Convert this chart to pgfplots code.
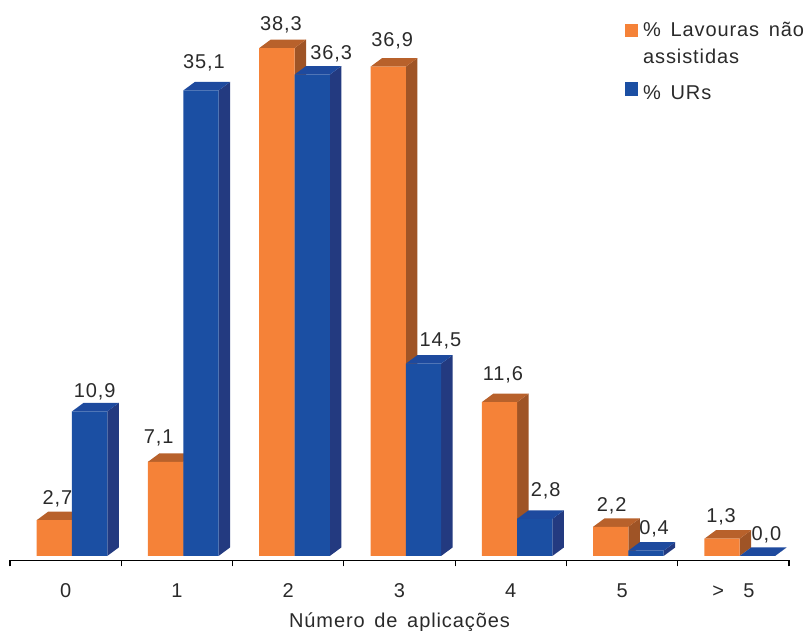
\documentclass[border=0pt]{standalone}
\usepackage{pgfplots}
\usepackage{pgfplotstable}
\usepackage{fontspec}
\setmainfont[LetterSpace=4.5,WordSpace=1.5]{Liberation Sans}
\pgfplotsset{compat=1.18}
\definecolor{orF}{HTML}{F58238}
\definecolor{orS}{HTML}{9F5426}
\definecolor{orT}{HTML}{B8612B}
\definecolor{blF}{HTML}{1B4FA3}
\definecolor{blS}{HTML}{233A80}
\definecolor{blT}{HTML}{1E4A9E}
\definecolor{txt}{HTML}{2A2A2A}
% x, value, label shift right (px), label shift above the bar front (px)
\pgfplotstableread{
x y dx dy
0 2.7 3 22
1 7.1 -7 25
2 38.3 4 24
3 36.9 4 27
4 11.6 3.5 28
5 2.2 1 22
6 1.3 -1 23
}\lavouras
\pgfplotstableread{
x y dx dy
0 10.9 5 20
1 35.1 3 28
2 36.3 19 22
3 14.5 17 24
4 2.8 11 29
5 0.4 8 23
6 0.0 9 22
}\urs
\newcommand\cuboid[4]{%
  \pgfmathsetmacro\xa{#1}%
  \pgfmathsetmacro\xb{#1+0.317}%
  \pgfmathsetmacro\xc{#1+0.317+0.1033}%
  \pgfmathsetmacro\xd{#1+0.1033}%
  \pgfmathsetmacro\va{#2}%
  \pgfmathsetmacro\vb{#2+0.641}%
  \edef\temp{\noexpand\addplot[draw=none,fill=#3,forget plot] coordinates {(\xb,0)(\xc,0.641)(\xc,\vb)(\xb,\va)} --cycle;
  \noexpand\addplot[draw=none,fill=#4,forget plot] coordinates {(\xa,\va)(\xb,\va)(\xc,\vb)(\xd,\vb)} --cycle;}%
  \temp}
\pgfplotsset{labelled/.style={
  nodes near coords,
  visualization depends on=\thisrow{dx}\as\dxv,
  visualization depends on=\thisrow{dy}\as\dyv,
  every node near coord/.style={font=\fontsize{15}{16}\selectfont,text=txt,anchor=base,
     inner sep=0pt,xshift={(\dxv+#1)*0.75pt},yshift={(\dyv-6.5)*0.75pt}},
}}
\begin{document}
\begin{tikzpicture}
\useasboundingbox (0,0) rectangle (605.25pt,473.25pt);
\begin{axis}[
  at={(7.5pt,52.9pt)}, anchor=south west,
  scale only axis, width=584.25pt, height=420.4pt,
  xmin=-0.5, xmax=6.5, ymin=-0.34, ymax=41.93,
  axis x line=bottom, axis y line=none,
  axis line style={-,line width=1.1pt,black},
  xtick={0,1,2,3,4,5,6},
  xticklabels={0,1,2,3,4,5,{>\ \ 5}},
  minor xtick={-0.5,0.5,1.5,2.5,3.5,4.5,5.5,6.5},
  major tick length=0pt, minor tick length=4.5pt,
  tick align=outside,
  tick style={black,line width=0.9pt},
  x tick label style={font=\fontsize{15}{16}\selectfont,text=txt,yshift=-14pt},
  xlabel={Número de aplicações},
  xlabel style={font=\fontsize{15}{16}\selectfont,text=txt,at={(axis description cs:0.5,0)},anchor=base,yshift=-50pt},
  clip=false,
  /pgf/number format/assume math mode=true,
  /pgf/number format/.cd,fixed,fixed zerofill,precision=1,use comma,/pgfplots/.cd,
  legend style={draw=none,fill=none,at={(0.7885,0.965)},anchor=north west,
    font=\fontsize{15}{16}\selectfont,text=txt,inner sep=0pt,row sep=4pt,
    /tikz/every odd column/.append style={column sep=2pt}},
  legend cell align=left,
  legend image code/.code={\fill[#1] (0pt,-4.9pt) rectangle (10pt,4.9pt);},
]
\cuboid{-0.26}{2.7}{orS}{orT}
\cuboid{0.74}{7.1}{orS}{orT}
\cuboid{1.74}{38.3}{orS}{orT}
\cuboid{2.74}{36.9}{orS}{orT}
\cuboid{3.74}{11.6}{orS}{orT}
\cuboid{4.74}{2.2}{orS}{orT}
\cuboid{5.74}{1.3}{orS}{orT}
\addplot[ybar,bar width=26.5pt,bar shift=-8.5pt,fill=orF,draw=none,labelled={-11.3}] table[x=x,y=y] {\lavouras};
\addlegendentry{\% Lavouras não}
\addlegendimage{empty legend}
\addlegendentry{assistidas}
\cuboid{0.057}{10.9}{blS}{blT}
\cuboid{1.057}{35.1}{blS}{blT}
\cuboid{2.057}{36.3}{blS}{blT}
\cuboid{3.057}{14.5}{blS}{blT}
\cuboid{4.057}{2.8}{blS}{blT}
\cuboid{5.057}{0.4}{blS}{blT}
\cuboid{6.057}{0.0}{blS}{blT}
\addplot[ybar,bar width=26.5pt,bar shift=18pt,fill=blF,draw=none,labelled={24}] table[x=x,y=y] {\urs};
\addlegendentry{\rule{0pt}{17pt}\% URs}
\end{axis}
\end{tikzpicture}
\end{document}
